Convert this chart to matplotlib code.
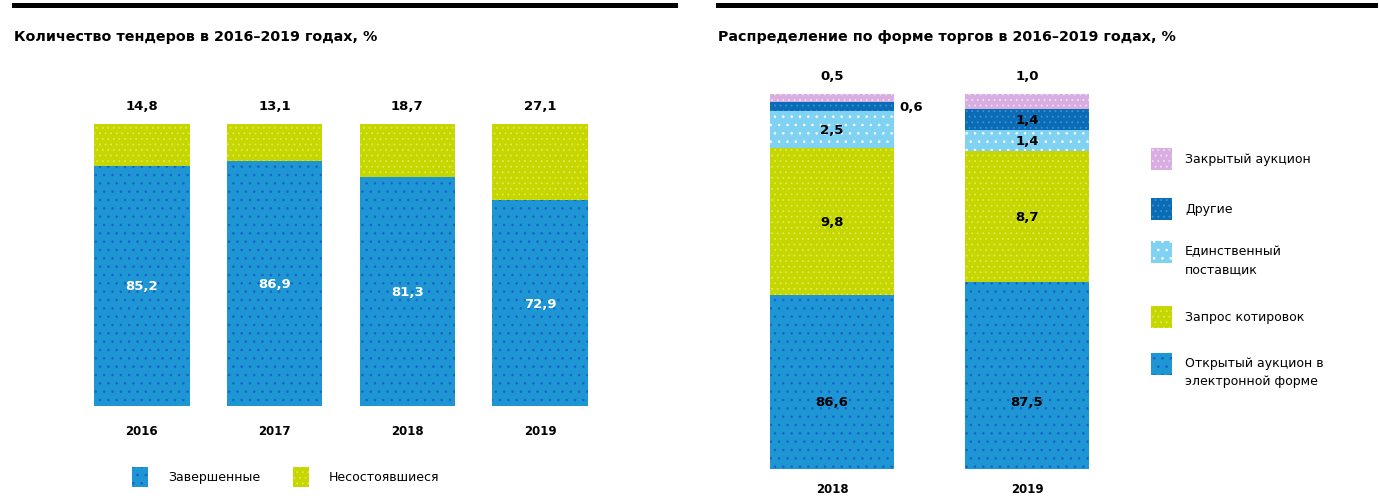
import numpy as np
import matplotlib.pyplot as plt
import matplotlib.transforms as mtransforms
from matplotlib.patches import Rectangle
from matplotlib.lines import Line2D

plt.rcParams['font.family'] = ['DejaVu Sans']
plt.rcParams['hatch.linewidth'] = 0.6

# ---------- data ----------
years_left = ['2016', '2017', '2018', '2019']
completed = [85.2, 86.9, 81.3, 72.9]      # Завершенные
failed = [14.8, 13.1, 18.7, 27.1]         # Несостоявшиеся

years_right = ['2018', '2019']
open_auction = [86.6, 87.5]   # Открытый аукцион в электронной форме
quotes = [9.8, 8.7]           # Запрос котировок
single = [2.5, 1.4]           # Единственный поставщик
other = [0.6, 1.4]            # Другие
closed = [0.5, 1.0]           # Закрытый аукцион

# ---------- styles: (face, dot colour, hatch) ----------
BLUE = ('#1e96d4', '#1a5fd0', '..')
GOLD = ('#c6d600', '#dfeb50', '...')
LIGHT = ('#80d2f2', '#ffffff', '..')
DARK = ('#0b6cb6', '#3a92d8', '...')
PINK = ('#d8aee2', '#f4dcf4', '...')

LBL = 9.5   # value label size


def fmt(v):
    return f"{v:.1f}".replace('.', ',')


def stacked(ax, x, vals, bottom, style, width):
    face, dots, hatch = style
    return ax.bar(x, vals, width, bottom=bottom, color=face, edgecolor=dots,
                  hatch=hatch, linewidth=0)


fig = plt.figure(figsize=(13.8, 5.02), dpi=100)

# top rules
fig.add_artist(Line2D([14 / 1380, 675 / 1380], [1 - 6 / 502] * 2, color='black', lw=3.6))
fig.add_artist(Line2D([718 / 1380, 1375 / 1380], [1 - 6 / 502] * 2, color='black', lw=3.6))

fig.text(14 / 1380, 1 - 37 / 502, "Количество тендеров в 2016–2019 годах, %",
         fontsize=10.3, fontweight='bold', va='center', ha='left')
fig.text(718 / 1380, 1 - 37 / 502, "Распределение по форме торгов в 2016–2019 годах, %",
         fontsize=10.3, fontweight='bold', va='center', ha='left')

# ---------- left chart ----------
axl = fig.add_axes([75.5 / 1380, 95 / 502, 531 / 1380, 282 / 502])
xl = np.arange(len(years_left))
wl = 0.72
stacked(axl, xl, completed, 0, BLUE, wl)
stacked(axl, xl, failed, completed, GOLD, wl)
axl.set_xlim(-0.5, len(years_left) - 0.5)
axl.set_ylim(0, 100)
axl.axis('off')

for i in range(len(years_left)):
    axl.text(xl[i], completed[i] / 2, fmt(completed[i]), color='white',
             fontsize=LBL, fontweight='bold', ha='center', va='center')
    axl.annotate(fmt(failed[i]), (xl[i], 100), xytext=(0, 18), textcoords='offset pixels',
                 fontsize=LBL, fontweight='bold', ha='center', va='center')
    axl.annotate(years_left[i], (xl[i], 0), xytext=(0, -25), textcoords='offset pixels',
                 fontsize=8.5, fontweight='bold', ha='center', va='center')

# left legend
for sx, style, label in [(132, BLUE, 'Завершенные'), (293, GOLD, 'Несостоявшиеся')]:
    face, dots, hatch = style
    fig.add_artist(Rectangle((sx / 1380, 1 - 488 / 502), 16 / 1380, 20 / 502,
                             facecolor=face, edgecolor=dots, hatch=hatch, lw=0,
                             transform=fig.transFigure))
    fig.text((sx + 36) / 1380, 1 - 478 / 502, label, fontsize=9, va='center', ha='left')

# ---------- right chart ----------
axr = fig.add_axes([734.5 / 1380, 32 / 502, 390 / 1380, 375 / 502])
xr = np.arange(len(years_right))
wr = 0.64
b0 = np.zeros(len(years_right))
segments = [(open_auction, BLUE), (quotes, GOLD), (single, LIGHT), (other, DARK), (closed, PINK)]
bottoms = []
for vals, style in segments:
    bottoms.append(b0.copy())
    stacked(axr, xr, vals, b0, style, wr)
    b0 = b0 + np.array(vals)
axr.set_xlim(-0.5, len(years_right) - 0.5)
axr.set_ylim(75, 100)
axr.axis('off')

trans = mtransforms.blended_transform_factory(axr.transData, axr.transAxes)
for i in range(len(years_right)):
    axr.text(xr[i], 0.18, fmt(open_auction[i]), transform=trans,
             fontsize=LBL, fontweight='bold', ha='center', va='center')
    axr.text(xr[i], bottoms[1][i] + quotes[i] / 2, fmt(quotes[i]),
             fontsize=LBL, fontweight='bold', ha='center', va='center')
    axr.text(xr[i], bottoms[2][i] + single[i] / 2, fmt(single[i]),
             fontsize=LBL, fontweight='bold', ha='center', va='center')
    axr.annotate(fmt(closed[i]), (xr[i], 100), xytext=(0, 18), textcoords='offset pixels',
                 fontsize=LBL, fontweight='bold', ha='center', va='center')
    axr.annotate(years_right[i], (xr[i], 75), xytext=(0, -20), textcoords='offset pixels',
                 fontsize=8.5, fontweight='bold', ha='center', va='center')
# "Другие": inside the thick 2019 segment, beside the thin 2018 one
axr.annotate(fmt(other[0]), (xr[0] + wr / 2, bottoms[3][0] + other[0] / 2), xytext=(5, 0),
             textcoords='offset pixels', fontsize=LBL, fontweight='bold', ha='left', va='center')
axr.text(xr[1], bottoms[3][1] + other[1] / 2, fmt(other[1]),
         fontsize=LBL, fontweight='bold', ha='center', va='center')

# right legend
legend_items = [
    (160, PINK, 'Закрытый аукцион'),
    (210, DARK, 'Другие'),
    (261, LIGHT, 'Единственный\nпоставщик'),
    (318, GOLD, 'Запрос котировок'),
    (373, BLUE, 'Открытый аукцион в\nэлектронной форме'),
]
for cy, style, label in legend_items:
    face, dots, hatch = style
    sy = cy if '\n' not in label else cy - 8
    fig.add_artist(Rectangle((1151 / 1380, 1 - (sy + 11) / 502), 21 / 1380, 22 / 502,
                             facecolor=face, edgecolor=dots, hatch=hatch, lw=0,
                             transform=fig.transFigure))
    fig.text(1185 / 1380, 1 - cy / 502, label, fontsize=9, va='center', ha='left',
             linespacing=1.5)

fig.savefig('out.png', dpi=100)
